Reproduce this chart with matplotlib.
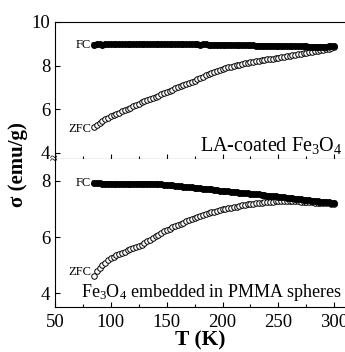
import numpy as np
import matplotlib
matplotlib.use("Agg")
import matplotlib.pyplot as plt

plt.rcParams['font.family'] = ['Liberation Serif', 'DejaVu Serif']
plt.rcParams['mathtext.fontset'] = 'custom'
plt.rcParams['mathtext.rm'] = 'Liberation Serif'
plt.rcParams['mathtext.it'] = 'Liberation Serif:italic'
plt.rcParams['mathtext.bf'] = 'Liberation Serif:bold'

# Temperature grid (K)
T = np.arange(85, 300.1, 2.5)

# Top panel: LA-coated Fe3O4
top_fc = [8.96, 8.97, 8.97, 8.96, 8.97, 8.97, 8.98,
          8.97, 8.97, 8.98, 8.97, 8.97, 8.98, 8.98, 8.97, 8.98, 8.98,
          8.99, 8.98, 8.98, 8.99, 8.98, 8.98, 8.99, 8.98, 8.98, 8.98,
          8.98, 8.98, 8.97, 8.98, 8.98, 8.97, 8.97, 8.98, 8.97, 8.97,
          8.97, 8.96, 8.97, 8.97, 8.96, 8.96, 8.96, 8.96, 8.95, 8.95,
          8.95, 8.95, 8.95, 8.94, 8.94, 8.94, 8.94, 8.93, 8.93, 8.93,
          8.93, 8.92, 8.92, 8.92, 8.92, 8.91, 8.91, 8.91, 8.91, 8.90,
          8.90, 8.90, 8.89, 8.89, 8.89, 8.89, 8.88, 8.88, 8.88, 8.88,
          8.87, 8.87, 8.87, 8.87, 8.87, 8.87, 8.87, 8.88, 8.88, 8.88]
top_zfc = [5.18, 5.28, 5.38, 5.46, 5.54, 5.61, 5.68,
           5.73, 5.78, 5.84, 5.90, 5.96, 6.01, 6.07, 6.12, 6.18, 6.24,
           6.31, 6.37, 6.42, 6.47, 6.52, 6.57, 6.62, 6.67, 6.72, 6.77,
           6.83, 6.89, 6.95, 7.01, 7.06, 7.11, 7.16, 7.21, 7.26, 7.31,
           7.37, 7.43, 7.49, 7.55, 7.60, 7.66, 7.71, 7.75, 7.80, 7.84,
           7.88, 7.91, 7.95, 7.98, 8.01, 8.04, 8.07, 8.10, 8.12, 8.15,
           8.17, 8.20, 8.22, 8.24, 8.26, 8.28, 8.30, 8.32, 8.34, 8.36,
           8.38, 8.40, 8.42, 8.44, 8.47, 8.49, 8.52, 8.54, 8.56, 8.59,
           8.61, 8.63, 8.66, 8.68, 8.70, 8.72, 8.75, 8.77, 8.80, 8.83]

# Bottom panel: Fe3O4 embedded in PMMA spheres
bot_fc = [7.93, 7.92, 7.92, 7.91, 7.91, 7.91, 7.90,
          7.90, 7.90, 7.90, 7.90, 7.90, 7.90, 7.90, 7.90, 7.90, 7.91,
          7.91, 7.91, 7.91, 7.91, 7.90, 7.90, 7.89, 7.88, 7.87, 7.86,
          7.85, 7.84, 7.83, 7.82, 7.81, 7.80, 7.79, 7.78, 7.77, 7.76,
          7.75, 7.74, 7.73, 7.72, 7.71, 7.70, 7.69, 7.68, 7.66, 7.65,
          7.64, 7.63, 7.62, 7.61, 7.60, 7.59, 7.58, 7.57, 7.56, 7.55,
          7.54, 7.53, 7.52, 7.51, 7.50, 7.48, 7.47, 7.46, 7.45, 7.44,
          7.43, 7.42, 7.41, 7.40, 7.38, 7.37, 7.36, 7.35, 7.34, 7.32,
          7.31, 7.30, 7.29, 7.28, 7.27, 7.26, 7.25, 7.24, 7.23, 7.22]
bot_zfc = [4.63, 4.80, 4.92, 5.02, 5.10, 5.18, 5.25,
           5.31, 5.36, 5.41, 5.45, 5.49, 5.53, 5.57, 5.61, 5.65, 5.69,
           5.74, 5.79, 5.85, 5.91, 5.97, 6.03, 6.09, 6.15, 6.21, 6.26,
           6.31, 6.35, 6.40, 6.44, 6.48, 6.52, 6.56, 6.60, 6.64, 6.68,
           6.72, 6.76, 6.79, 6.82, 6.85, 6.88, 6.91, 6.94, 6.97, 6.99,
           7.01, 7.03, 7.05, 7.07, 7.09, 7.11, 7.13, 7.15, 7.17, 7.18,
           7.19, 7.21, 7.22, 7.23, 7.24, 7.25, 7.26, 7.27, 7.28, 7.28,
           7.29, 7.29, 7.29, 7.29, 7.29, 7.28, 7.28, 7.27, 7.26, 7.26,
           7.25, 7.24, 7.23, 7.22, 7.22, 7.21, 7.20, 7.20, 7.19, 7.18]

x_ticks = [50, 100, 150, 200, 250, 300]
top_yticks = [4, 6, 8, 10]
bot_yticks = [4, 6, 8]

W, H = 345, 352
SEP = 159
fig = plt.figure(figsize=(W / 100, H / 100), dpi=100)
left = 55 / W
width = 1 - left
ax1 = fig.add_axes([left, 1 - SEP / H, width, (SEP - 22) / H])
ax2 = fig.add_axes([left, 1 - 307 / H, width, (307 - SEP) / H])

ms = 4.0
for ax, fc, zfc in ((ax1, top_fc, top_zfc), (ax2, bot_fc, bot_zfc)):
    ax.plot(T, zfc, linestyle='none', marker='o', ms=ms, mfc='white',
            mec='black', mew=0.7, zorder=2)
    ax.plot(T, fc, linestyle='-', lw=3.4, color='black',
            marker='o', ms=ms, mfc='black', mec='black', zorder=3)
    ax.set_xlim(50, 309.6)
    ax.set_xticks(x_ticks)
    ax.set_xticks([75, 125, 175, 225, 275], minor=True)
    ax.tick_params(direction='in', which='both', labelsize=13.5,
                   top=False, right=False, width=0.8)
    ax.tick_params(which='major', length=3.5)
    ax.tick_params(which='minor', length=2)
    ax.tick_params(axis='x', pad=5)
    ax.spines['right'].set_visible(False)

ax1.set_ylim(3.706, 10)
ax1.set_yticks(top_yticks)
ax1.tick_params(labelbottom=False)
ax2.set_ylim(3.52, 8.782)
ax2.set_yticks(bot_yticks)
ax2.spines['top'].set_visible(False)

ax1.text(0.99, 0.1, 'LA-coated Fe$_3$O$_4$', transform=ax1.transAxes,
         ha='right', va='center', fontsize=14.5)
ax2.text(0.99, 0.1, 'Fe$_3$O$_4$ embedded in PMMA spheres',
         transform=ax2.transAxes, ha='right', va='center', fontsize=13)

ax1.text(82, top_fc[0], 'FC', ha='right', va='center', fontsize=9)
ax1.text(83, top_zfc[0] - 0.1, 'ZFC', ha='right', va='center', fontsize=9)
ax2.text(82, bot_fc[0], 'FC', ha='right', va='center', fontsize=9)
ax2.text(83, bot_zfc[0] + 0.15, 'ZFC', ha='right', va='center', fontsize=9)

# axis break mark
fig.text(left - 2 / W, 1 - (SEP + 0.5) / H, '\u2248', ha='center',
         va='center', fontsize=10)

ax2.set_xlabel('T (K)', fontsize=15.5, fontweight='bold', labelpad=0)
fig.text(18 / W, 1 - 165 / H, '\u03c3 (emu/g)', rotation=90, ha='center',
         va='center', fontsize=15, fontweight='bold')

fig.savefig('out.png', dpi=100)
